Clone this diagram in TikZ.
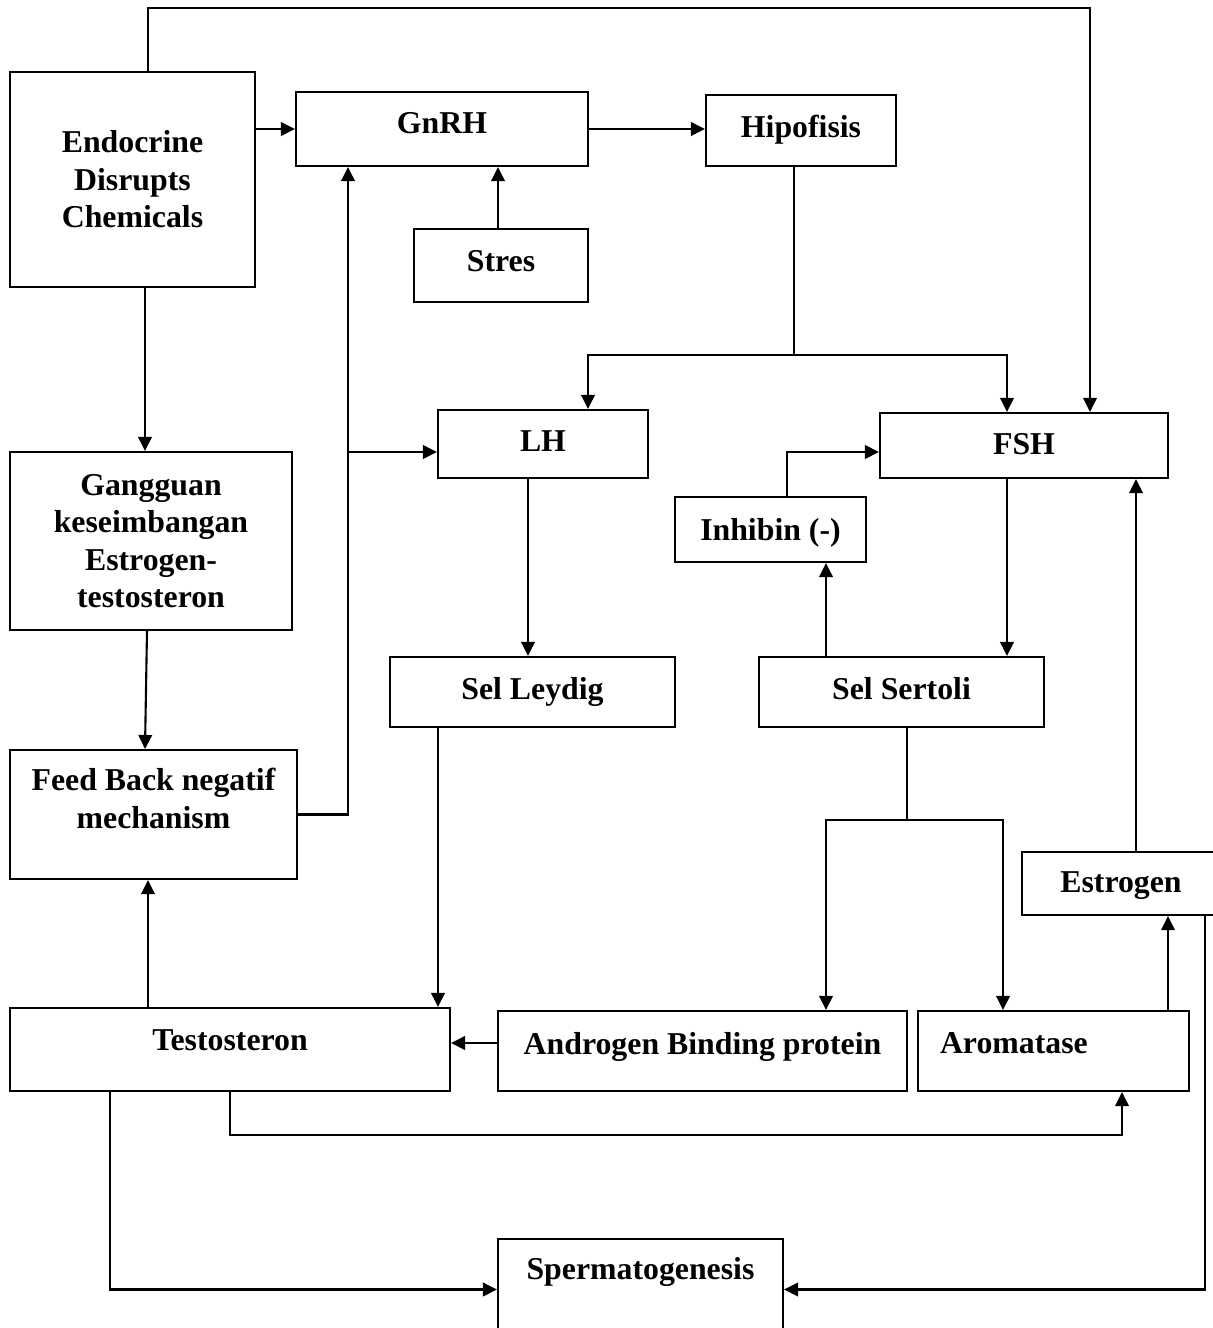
\documentclass[tikz,border=0pt]{standalone}
\usepackage{fontspec}
\setmainfont{Liberation Serif}
\usetikzlibrary{arrows.meta}
\usetikzlibrary{positioning}

\begin{document}
\begin{tikzpicture}[x=0.02cm,y=-0.02cm]
    \clip (0,0) rectangle (1213,1328);
    \begin{scope}[every node/.style={rectangle,draw,line width=1.2pt,align=center,
        font=\bfseries\fontsize{18.1}{21.3}\selectfont}]
      \node[minimum width=4.9cm,minimum height=4.3cm] (edc) at (132.5,179.5) {Endocrine\\Disrupts\\Chemicals};
      \node[minimum width=5.84cm,minimum height=1.48cm,text depth=0.26cm] (gnrh) at (442,129) {GnRH};
      \node[minimum width=3.8cm,minimum height=1.42cm,text depth=0.18cm] (hipo) at (801,130.5) {Hipofisis};
      \node[minimum width=3.48cm,minimum height=1.46cm,text depth=0.18cm] (stres) at (501,265.5) {Stres};
      \node[minimum width=4.2cm,minimum height=1.36cm,text depth=0.1cm] (lh) at (543,444) {LH};
      \node[minimum width=5.76cm,minimum height=1.3cm,text depth=0.06cm] (fsh) at (1024,445.5) {FSH};
      \node[minimum width=3.82cm,minimum height=1.3cm,text depth=0cm] (inh) at (770.5,529.5) {Inhibin (-)};
      \node[minimum width=5.64cm,minimum height=3.56cm] (gang) at (151,541) {Gangguan\\keseimbangan\\Estrogen-\\testosteron};
      \node[minimum width=5.7cm,minimum height=1.4cm,text depth=0.16cm] (leyd) at (532.5,692) {Sel Leydig};
      \node[minimum width=5.7cm,minimum height=1.4cm,text depth=0.14cm] (sert) at (901.5,692) {Sel Sertoli};
      \node[minimum width=5.74cm,minimum height=2.58cm,text depth=0.64cm] (fb) at (153.5,814.5) {Feed Back negatif\\mechanism};
      \node[minimum width=3.96cm,minimum height=1.26cm,text depth=0.06cm] (estr) at (1121,883.5) {Estrogen};
      \node[minimum width=8.8cm,minimum height=1.66cm,text depth=0.38cm] (testo) at (230,1049.5) {Testosteron};
      \node[minimum width=8.18cm,minimum height=1.6cm,text depth=0.32cm] (abp) at (702.5,1051) {Androgen Binding protein};
      \node[minimum height=1.6cm,inner xsep=0.44cm,text width=4.54cm,align=left,text depth=0.32cm] (arom) at (1053.5,1051) {Aromatase};
      \node[minimum width=5.7cm,minimum height=2.02cm,text depth=0.84cm] (sperm) at (640.5,1289.5) {Spermatogenesis};
    \end{scope}
    \coordinate (tl) at (148,8);
    \coordinate (tr) at (1090,8);
    \coordinate (hub) at (794,355);
    \coordinate (fbx) at (348,452);
    \coordinate (shub) at (907,820);
    \coordinate (bot) at (230,1135);
    \begin{scope}[every path/.style={line width=1.2pt},
        >={Triangle[length=0.28cm,width=0.27cm]}]
      % top line
      \draw[->] (edc.north -| tl) -- (tl) -- (tr) -- (tr |- fsh.north);
      \draw[->] (gnrh.west -| edc.east) -- (gnrh.west);
      \draw[->] (gnrh.east) -- (gnrh.east -| hipo.west);
      \draw[->] (stres.north -| 498,0) -- (gnrh.south -| 498,0);
      % hipofisis to LH and FSH
      \draw (hipo.south -| hub) -- (hub);
      \draw[->] (hub) -| (lh.north -| 588,0);
      \draw[->] (hub) -| (fsh.north -| 1007,0);
      \draw[->] (edc.south -| 145,0) -- (gang.north -| 145,0);
      \draw[->] (gang.south -| 147,0) -- (fb.north -| 145,0);
      % feed back
      \draw[->] (fb.east) -| (gnrh.south -| fbx);
      \draw[->] (fbx) -- (fbx -| lh.west);
      \draw[->] (lh.south -| 528,0) -- (leyd.north -| 528,0);
      \draw[->] (fsh.south -| 1007,0) -- (sert.north -| 1007,0);
      \draw[->] (sert.north -| 826,0) -- (inh.south -| 826,0);
      \draw[->] (inh.north -| 787,0) |- (fsh.west |- 0,452);
      \draw[->] (leyd.south -| 438,0) -- (testo.north -| 438,0);
      % sertoli split
      \draw (sert.south -| shub) -- (shub);
      \draw[->] (shub) -| (abp.north -| 826,0);
      \draw[->] (shub) -| (arom.north -| 1003,0);
      \draw[->] (abp.west |- 0,1043) -- (testo.east |- 0,1043);
      \draw[->] (testo.north -| 148,0) -- (fb.south -| 148,0);
      \draw[->] (testo.south) -- (bot) -| (arom.south -| 1122,0);
      \draw[->] (arom.north -| 1168,0) -- (estr.south -| 1168,0);
      \draw[->] (estr.north -| 1136,0) -- (fsh.south -| 1136,0);
      % to spermatogenesis
      \draw[->] (estr.south -| 1205,0) |- (sperm.east);
      \draw[->] (testo.south -| 110,0) |- (sperm.west);
    \end{scope}
\end{tikzpicture}
\end{document}
